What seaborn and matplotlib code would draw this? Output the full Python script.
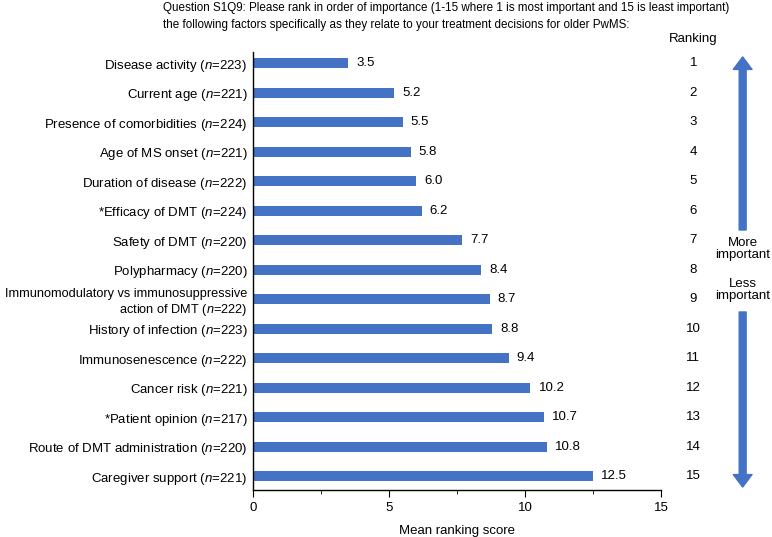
import matplotlib
matplotlib.use("Agg")
import matplotlib.pyplot as plt
import matplotlib.transforms as mtransforms
from matplotlib.patches import FancyArrowPatch
from matplotlib.ticker import MultipleLocator
import pandas as pd
import seaborn as sns

factors = [
    "Disease activity", "Current age", "Presence of comorbidities", "Age of MS onset",
    "Duration of disease", "*Efficacy of DMT", "Safety of DMT", "Polypharmacy",
    "Immunomodulatory vs immunosuppressive\naction of DMT", "History of infection",
    "Immunosenescence", "Cancer risk", "*Patient opinion", "Route of DMT administration",
    "Caregiver support",
]
n_values = [223, 221, 224, 221, 222, 224, 220, 220, 222, 223, 222, 221, 217, 220, 221]
scores = [3.5, 5.2, 5.5, 5.8, 6.0, 6.2, 7.7, 8.4, 8.7, 8.8, 9.4, 10.2, 10.7, 10.8, 12.5]
rankings = list(range(1, 16))

title = ("Question S1Q9: Please rank in order of importance (1-15 where 1 is most important and 15 is least important)\n"
         "the following factors specifically as they relate to your treatment decisions for older PwMS:")

plt.rcParams["font.family"] = ["Liberation Sans", "DejaVu Sans"]
plt.rcParams["mathtext.fontset"] = "custom"
plt.rcParams["mathtext.rm"] = "Liberation Sans"
plt.rcParams["mathtext.it"] = "Liberation Sans:italic"

labels = [f"{f} ($\\mathit{{n}}$={n})" for f, n in zip(factors, n_values)]
df = pd.DataFrame({"label": labels, "score": scores})

fig = plt.figure(figsize=(7.72, 5.37), dpi=100)
ax = fig.add_axes([0.3277, 0.0875, 0.5285, 0.8155])

sns.barplot(data=df, y="label", x="score", orient="h", color="#4472C4",
            saturation=1, width=0.34, ax=ax)

for i, v in enumerate(scores):
    ax.text(v + 0.3, i, f"{v:.1f}", va="center", ha="left", fontsize=9.5)

ax.set_xlim(0, 15)
ax.set_ylim(14.47, -0.37)
ax.xaxis.set_major_locator(MultipleLocator(5))
ax.xaxis.set_minor_locator(MultipleLocator(2.5))
ax.tick_params(axis="x", which="major", length=5, labelsize=9.5)
ax.tick_params(axis="x", which="minor", length=3)
ax.tick_params(axis="y", length=0, labelsize=9.5, pad=4)
# the two-line label is a touch smaller so it fits the left edge
for t in ax.get_yticklabels():
    if "\n" in t.get_text():
        t.set_fontsize(9.2)
ax.set_xlabel("Mean ranking score", fontsize=9.5, labelpad=8)
ax.set_ylabel("")
for s in ["top", "right"]:
    ax.spines[s].set_visible(False)
for s in ["left", "bottom"]:
    ax.spines[s].set_color("black")
    ax.spines[s].set_linewidth(1)

fig.text(0.211, 0.997, title, ha="left", va="top", fontsize=8.4,
         family=["Liberation Sans Narrow", "Liberation Sans"], linespacing=1.55)

# ranking column
trans = mtransforms.blended_transform_factory(fig.transFigure, ax.transData)
fig.text(0.898, 0.927, "Ranking", ha="center", va="center", fontsize=9.5)
for i, r in enumerate(rankings):
    ax.text(0.898, i, str(r), transform=trans, ha="center", va="center", fontsize=9.5, clip_on=False)

# importance arrows
arrow_x = 0.962
style = "simple,head_length=0.9,head_width=1.35,tail_width=0.5"
for y0, y1 in [(0.5717, 0.894), (0.419, 0.093)]:
    fig.patches.append(FancyArrowPatch((arrow_x, y0), (arrow_x, y1), transform=fig.transFigure,
                                       arrowstyle=style, mutation_scale=10, color="#4472C4",
                                       shrinkA=0, shrinkB=0))
fig.text(arrow_x, 0.536, "More\nimportant", ha="center", va="center", fontsize=9.5, linespacing=0.95)
fig.text(arrow_x, 0.46, "Less\nimportant", ha="center", va="center", fontsize=9.5, linespacing=0.95)

fig.savefig("out.png", dpi=100)
